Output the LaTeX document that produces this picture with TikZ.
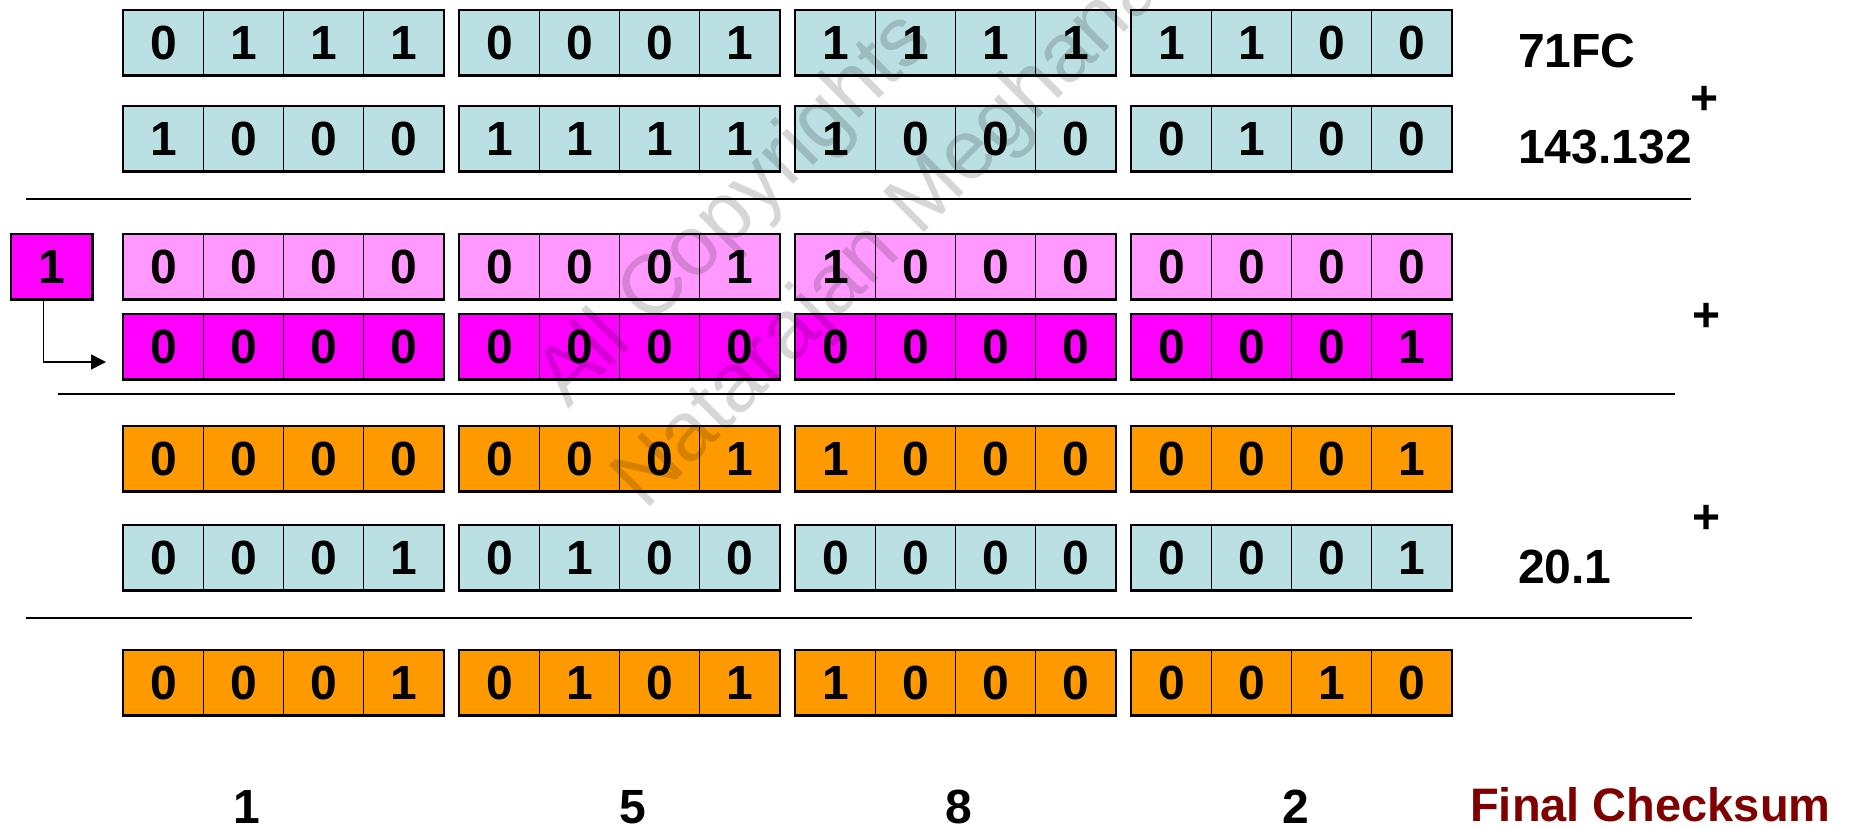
\documentclass[tikz,border=0pt]{standalone}
\usepackage{fontspec}
\setmainfont{Liberation Sans}
\usetikzlibrary{arrows.meta,calc}
\definecolor{cblue}{HTML}{BBE0E3}
\definecolor{cpink}{HTML}{FF99FF}
\definecolor{cmag}{HTML}{FF00FF}
\definecolor{corange}{HTML}{FF9900}
\definecolor{cdred}{HTML}{800000}
\begin{document}
\begin{tikzpicture}[x=1pt,y=-1pt,
  bitcell/.style={draw=black, line width=1.4pt, minimum width=80pt, minimum height=64pt,
    inner sep=0pt, anchor=north west, font=\fontsize{48}{50}\selectfont\bfseries},
  groupbox/.style={draw=black, line width=2.2pt},
  sumline/.style={draw=black, line width=2pt},
  sidelabel/.style={anchor=base west, inner sep=0pt, font=\fontsize{48}{50}\selectfont\bfseries},
  pluslabel/.style={anchor=center, inner sep=0pt, font=\fontsize{48}{50}\selectfont\bfseries},
  nibble/.style={anchor=base, inner sep=0pt, font=\fontsize{48}{50}\selectfont\bfseries},
  carryarrow/.style={draw=black, line width=1.5pt, -{Triangle[length=15pt,width=15pt]}},
  watermark/.style={anchor=base west, inner sep=0pt, text=black, text opacity=0.16,
    font=\fontsize{84}{90}\selectfont, rotate=45}]
\useasboundingbox (0,0) rectangle (1852,827);

% rows of bits
\foreach \row/\top/\col/\bits in {
  1/10/cblue/{0,1,1,1,0,0,0,1,1,1,1,1,1,1,0,0},
  2/106/cblue/{1,0,0,0,1,1,1,1,1,0,0,0,0,1,0,0},
  3/234/cpink/{0,0,0,0,0,0,0,1,1,0,0,0,0,0,0,0},
  4/314/cmag/{0,0,0,0,0,0,0,0,0,0,0,0,0,0,0,1},
  5/426/corange/{0,0,0,0,0,0,0,1,1,0,0,0,0,0,0,1},
  6/525/cblue/{0,0,0,1,0,1,0,0,0,0,0,0,0,0,0,1},
  7/650/corange/{0,0,0,1,0,1,0,1,1,0,0,0,0,0,1,0}}{
  \foreach \b [count=\i] in \bits {
    \pgfmathsetmacro\xx{122.7+(\i-1)*80+int((\i-1)/4)*16}
    \node[bitcell, fill=\col] (r\row c\i) at (\xx,\top) {\b};
  }
  \foreach \g in {0,1,2,3}{
    \pgfmathtruncatemacro\ga{4*\g+1}
    \pgfmathtruncatemacro\gb{4*\g+4}
    \draw[groupbox] (r\row c\ga.north west) rectangle (r\row c\gb.south east);
  }
}

% carry bit
\node[bitcell, fill=cmag, minimum width=80pt] (carry) at (11,234) {1};
\draw[groupbox] (carry.north west) rectangle (carry.south east);
\coordinate (carryend) at (106,362);
\draw[carryarrow] ([xshift=-8pt]carry.south) |- (carryend);

% sum lines
\coordinate (l1a) at (26,199);  \coordinate (l1b) at (1691,199);
\coordinate (l2a) at (58,394);  \coordinate (l2b) at (1675,394);
\coordinate (l3a) at (26,618);  \coordinate (l3b) at (1692,618);
\draw[sumline] (l1a) -- (l1b);
\draw[sumline] (l2a) -- (l2b);
\draw[sumline] (l3a) -- (l3b);

% side labels
\node[sidelabel] (lab1) at (1518,67) {71FC};
\node[sidelabel] (lab2) at (1518,163) {143.132};
\node[sidelabel] (lab3) at (1518,583) {20.1};
\node[pluslabel] (plus1) at (1704,100) {+};
\node[pluslabel] (plus2) at (1706,317) {+};
\node[pluslabel] (plus3) at (1706,519) {+};
\node[sidelabel, text=cdred, font=\fontsize{47}{50}\selectfont\bfseries] (final) at (1470,821) {Final Checksum};

% hex digits of the checksum
\node[nibble] (h1) at (247,823) {1};
\node[nibble] (h2) at (633,823) {5};
\node[nibble] (h3) at (959,823) {8};
\node[nibble] (h4) at (1296,823) {2};

% watermark
\node[watermark] (wm1) at (568,410) {All Copyrights};
\node[watermark] (wm2) at (645,512) {Natarajan Meghanathan};
\end{tikzpicture}
\end{document}
